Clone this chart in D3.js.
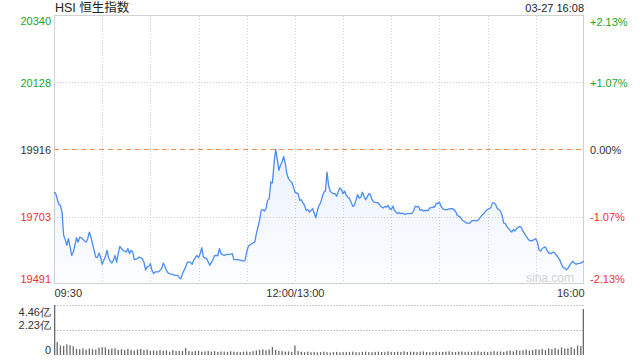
<!DOCTYPE html>
<html><head><meta charset="utf-8">
<script src="https://cdn.jsdelivr.net/npm/d3@7/dist/d3.min.js"></script>
<style>
html,body{margin:0;padding:0;background:#fff;}
svg{display:block;font-family:"Liberation Sans",Arial,"Noto Sans CJK SC",sans-serif;}
</style></head><body>
<svg id="c" width="640" height="360"></svg>
<script>
// ---------- data ----------
const titleText = "HSI 恒生指数";
const stampText = "03-27 16:08";
const prevClose = 19916;
const priceTicks = [20340, 20128, 19916, 19703, 19491];
const pctLabels = ["+2.13%", "+1.07%", "0.00%", "-1.07%", "-2.13%"];
const timeTickMinutes = [0, 150, 330];
const timeTickLabels = ["09:30", "12:00/13:00", "16:00"];
const volTicks = [4.46, 2.23, 0];
const volTickLabels = ["4.46亿", "2.23亿", "0"];

// trading minutes since 09:30 (lunch break removed)
const minutes = [0,1,2,3,4,5,6,7,8,9,10,11,12,13,14,15,16,17,19,20,21,22,23,24,25,26,27,28,29,30,31,32,33,34,35,36,37,38,39,40,41,42,43,45,46,47,48,49,50,52,53,55,56,57,58,59,60,61,62,63,65,66,67,68,69,70,71,72,74,75,77,78,79,80,82,83,85,86,87,89,90,91,92,93,95,97,99,100,102,103,104,106,107,110,111,112,114,116,118,119,120,121,123,125,126,127,128,129,130,131,132,133,134,135,136,137,138,139,140,141,142,143,144,145,146,147,148,149,150,152,153,154,155,156,157,158,159,160,161,162,163,164,165,166,167,168,169,170,171,172,173,174,175,176,177,178,179,180,181,182,183,184,185,186,187,188,189,190,191,192,193,194,195,196,197,198,199,201,202,203,204,205,206,207,208,209,210,211,212,213,214,215,216,217,218,220,222,223,224,225,226,227,228,229,230,231,233,234,235,236,237,238,239,240,241,242,243,245,246,248,250,251,253,254,255,256,257,259,260,262,263,264,266,267,268,269,270,272,273,274,275,276,277,278,279,280,281,282,283,284,285,286,287,288,289,290,291,292,293,294,295,296,297,298,299,300,301,302,303,304,305,306,307,308,309,310,311,312,313,315,316,317,318,319,320,321,322,323,324,325,326,328,329,330];
const prices = [19780,19778,19760,19742,19739,19718,19645,19631,19613,19634,19608,19581,19592,19613,19637,19623,19639,19637,19627,19623,19634,19655,19639,19618,19597,19576,19574,19589,19576,19553,19566,19578,19597,19574,19563,19557,19566,19581,19560,19587,19610,19603,19597,19592,19603,19587,19597,19592,19568,19571,19576,19571,19560,19536,19545,19547,19555,19534,19524,19529,19529,19534,19539,19557,19547,19534,19526,19524,19521,19518,19518,19511,19507,19524,19545,19560,19560,19553,19566,19581,19574,19587,19606,19576,19571,19550,19568,19581,19581,19603,19587,19581,19584,19585,19587,19568,19568,19566,19563,19566,19592,19610,19618,19623,19650,19671,19692,19723,19726,19721,19729,19755,19760,19813,19810,19871,19915,19887,19850,19866,19876,19894,19871,19839,19824,19816,19813,19799,19781,19776,19755,19757,19747,19739,19723,19726,19718,19723,19729,19715,19700,19723,19739,19747,19765,19781,19784,19844,19802,19783,19779,19776,19776,19768,19783,19794,19789,19776,19784,19771,19765,19760,19750,19736,19739,19755,19773,19762,19765,19781,19768,19757,19765,19776,19774,19757,19750,19748,19747,19739,19734,19731,19736,19734,19739,19729,19726,19737,19723,19718,19713,19717,19713,19715,19711,19713,19713,19715,19723,19737,19734,19736,19723,19726,19721,19723,19723,19731,19732,19734,19734,19745,19745,19750,19736,19729,19726,19726,19728,19729,19721,19708,19702,19694,19690,19687,19683,19683,19690,19692,19690,19692,19705,19711,19715,19723,19726,19732,19747,19747,19742,19729,19726,19721,19708,19683,19682,19673,19666,19660,19655,19663,19658,19666,19669,19673,19669,19658,19650,19641,19634,19629,19627,19629,19631,19634,19623,19599,19595,19603,19606,19608,19597,19589,19587,19589,19592,19587,19581,19566,19553,19543,19541,19536,19540,19550,19557,19563,19557,19553,19555,19557,19560,19563];

// volume (亿), one bar every 2 trading minutes
const volumes = [4.46,
1.15,0.85,0.80,0.95,0.88,0.78,0.55,0.52,0.60,0.48,
0.58,0.52,0.48,0.65,0.70,0.68,0.52,0.58,0.60,0.45,
0.52,0.44,0.55,0.45,0.40,0.50,0.54,0.44,0.50,0.38,
0.40,0.36,0.45,0.38,0.42,0.30,0.45,0.35,0.38,0.36,
0.62,0.35,0.30,0.36,0.38,0.30,0.32,0.36,0.30,0.35,
0.28,0.32,0.30,0.27,0.33,0.30,0.28,0.26,0.30,0.32,
0.28,0.35,0.40,0.45,0.50,0.42,0.48,0.72,0.45,0.38,
0.35,0.30,0.32,0.28,0.85,0.35,0.28,0.26,0.30,0.25,
0.28,0.24,0.26,0.30,0.25,0.22,0.26,0.28,0.24,0.27,
0.25,0.28,0.30,0.26,0.24,0.28,0.30,0.26,0.25,0.28,
0.30,0.27,0.25,0.32,0.28,0.26,0.30,0.28,0.33,0.27,
0.30,0.28,0.26,0.30,0.32,0.27,0.25,0.28,0.30,0.26,
0.28,0.30,0.33,0.28,0.26,0.30,0.32,0.28,0.30,0.27,
0.30,0.33,0.28,0.30,0.26,0.30,0.35,0.30,0.32,0.28,
0.36,0.40,0.33,0.45,0.38,0.42,0.50,0.40,0.45,0.52,
0.48,0.55,0.45,0.60,0.52,0.62,0.50,0.68,0.58,0.62,
0.70,0.55,0.85,0.80,4.10];
const volStep = 2;

// ---------- layout ----------
const L = 54, R = 584, T = 15, B = 284, VT = 305, VB = 355;
const GREEN = "#1ea51e", RED = "#f0302b", DARK = "#333";
const tickColor = (v) => v > prevClose ? GREEN : (v < prevClose ? RED : DARK);

const svg = d3.select("#c");
const x = d3.scaleLinear().domain([0, 330]).range([L, R]);
const y = d3.scaleLinear().domain([19491, 20340]).range([B, T]);
const yv = d3.scaleLinear().domain([0, d3.max(volTicks)]).range([VB, VT]);

const data = minutes.map((m, i) => ({m, v: prices[i]}));

// gradient
const defs = svg.append("defs");
const grad = defs.append("linearGradient").attr("id", "ag")
  .attr("gradientUnits", "userSpaceOnUse").attr("x1", 0).attr("x2", 0).attr("y1", T).attr("y2", B);
grad.append("stop").attr("offset", "0%").attr("stop-color", "#4a8cf0").attr("stop-opacity", 0.2);
grad.append("stop").attr("offset", "100%").attr("stop-color", "#4a8cf0").attr("stop-opacity", 0.02);

// vertical grid (every 30 minutes)
const gridMinutes = d3.range(30, 330, 30);
svg.append("g").attr("transform", `translate(0,${B})`)
  .call(d3.axisBottom(x).tickValues(gridMinutes).tickSize(-(B - T)).tickFormat(""))
  .call(g => g.select(".domain").remove())
  .call(g => g.selectAll("line").attr("stroke", "#cfcfcf").attr("stroke-dasharray", "1,2").attr("shape-rendering", "crispEdges"));

// horizontal grid (outer two are the frame; the 0% line is drawn separately)
svg.append("g").attr("transform", `translate(${L},0)`)
  .call(d3.axisLeft(y).tickValues([priceTicks[1], priceTicks[3]]).tickSize(-(R - L)).tickFormat(""))
  .call(g => g.select(".domain").remove())
  .call(g => g.selectAll("line").attr("stroke", "#cfcfcf").attr("stroke-dasharray", "1,2").attr("shape-rendering", "crispEdges"));

// frame
svg.append("rect").attr("x", L + 0.5).attr("y", T + 0.5).attr("width", R - L - 1).attr("height", B - T - 1)
  .attr("fill", "none").attr("stroke", "#d2d2d2");

// area + line
svg.append("path").datum(data)
  .attr("d", d3.area().x(d => x(d.m)).y0(B).y1(d => y(d.v)))
  .attr("fill", "url(#ag)");

// previous close dashed line
const yp = Math.round(y(prevClose)) + 0.5;
svg.append("line").attr("x1", L).attr("x2", R).attr("y1", yp).attr("y2", yp)
  .attr("stroke", "#d8d8d8").attr("stroke-dasharray", "1,2");
svg.append("line").attr("x1", L).attr("x2", R).attr("y1", yp).attr("y2", yp)
  .attr("stroke", "#f39050").attr("stroke-dasharray", "5,4");

svg.append("path").datum(data)
  .attr("d", d3.line().x(d => x(d.m)).y(d => y(d.v)))
  .attr("fill", "none").attr("stroke", "#4a8cf0").attr("stroke-width", 1.3).attr("stroke-linejoin", "round");

// left price axis
const yAx = svg.append("g").attr("transform", `translate(${L},0)`)
  .call(d3.axisLeft(y).tickValues(priceTicks).tickSize(0).tickPadding(3).tickFormat(d3.format("d")));
yAx.select(".domain").remove();
yAx.selectAll("text").attr("font-size", 11).attr("font-family", null)
  .attr("fill", d => tickColor(d))
  .attr("dy", (d, i) => i === 0 ? "9px" : (i === priceTicks.length - 1 ? "-2px" : "4px"));

// right pct axis
const yAxR = svg.append("g").attr("transform", `translate(${R},0)`)
  .call(d3.axisRight(y).tickValues(priceTicks).tickSize(0).tickPadding(6).tickFormat((d, i) => pctLabels[i]));
yAxR.select(".domain").remove();
yAxR.selectAll("text").attr("font-size", 11).attr("font-family", null)
  .attr("fill", d => tickColor(d))
  .attr("dy", (d, i) => i === 0 ? "10px" : (i === priceTicks.length - 1 ? "-2px" : "4px"));

// time axis
const xAx = svg.append("g").attr("transform", `translate(0,${B})`)
  .call(d3.axisBottom(x).tickValues(timeTickMinutes).tickSize(0).tickPadding(4).tickFormat((d, i) => timeTickLabels[i]));
xAx.select(".domain").remove();
xAx.selectAll("text").attr("font-size", 11).attr("font-family", null).attr("fill", DARK)
  .attr("text-anchor", (d, i) => i === 0 ? "start" : (i === timeTickMinutes.length - 1 ? "end" : "middle"))
  .attr("dy", "0.85em");

// title / stamp / watermark
svg.append("text").attr("x", L + 1).attr("y", 12).attr("font-size", 12.5).attr("fill", "#222").text(titleText);
svg.append("text").attr("x", R).attr("y", 12).attr("font-size", 11).attr("fill", "#222").attr("text-anchor", "end").text(stampText);
svg.append("text").attr("x", 574).attr("y", 282).attr("font-size", 12).attr("fill", "#d0d0d0").attr("text-anchor", "end").text("sina.com");

// volume grid
svg.append("g").attr("transform", `translate(${L},0)`)
  .call(d3.axisLeft(yv).tickValues(volTicks.slice(0, -1)).tickSize(-(R - L)).tickFormat(""))
  .call(g => g.select(".domain").remove())
  .call(g => g.selectAll("line").attr("stroke", "#c8c8c8").attr("stroke-dasharray", "2,1").attr("shape-rendering", "crispEdges"));

// volume labels
const vAx = svg.append("g").attr("transform", `translate(${L},0)`)
  .call(d3.axisLeft(yv).tickValues(volTicks).tickSize(0).tickPadding(3).tickFormat((d, i) => volTickLabels[i]));
vAx.select(".domain").remove();
vAx.selectAll("text").attr("font-size", 11).attr("font-family", null).attr("fill", DARK)
  .attr("dy", (d, i) => i === 0 ? "10px" : "-2px");

// volume bars
const bw = 1.3;
svg.append("g").selectAll("rect").data(volumes).join("rect")
  .attr("x", (d, i) => Math.min(Math.max(x(i * volStep) - bw / 2, L), R - bw))
  .attr("y", d => yv(d))
  .attr("width", bw)
  .attr("height", d => VB - yv(d))
  .attr("fill", "#6a6a6a");
</script>
</body></html>
